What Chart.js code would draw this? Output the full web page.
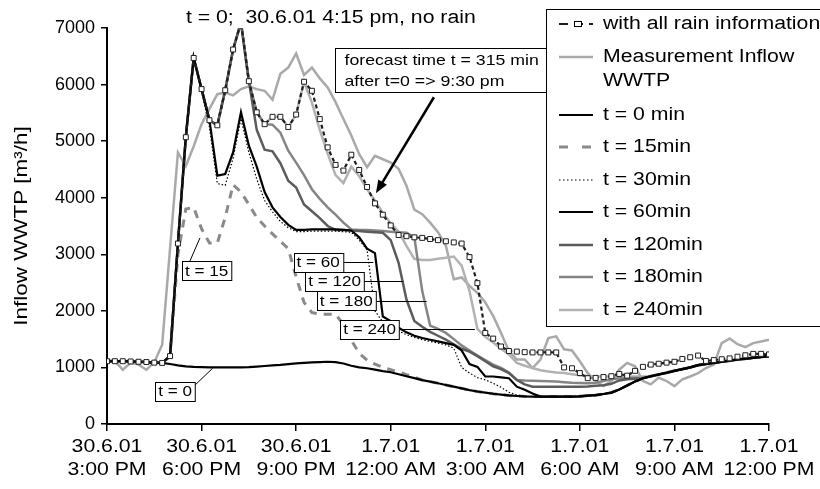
<!DOCTYPE html>
<html>
<head>
<meta charset="utf-8">
<title>Inflow WWTP forecast</title>
<script src="https://cdn.jsdelivr.net/npm/chart.js@4.4.0/dist/chart.umd.min.js"></script>
<style>
  html, body { margin: 0; padding: 0; background: #fff; }
  #wrap { width: 820px; height: 489px; }
  canvas { display: block; }
</style>
</head>
<body>
<div id="wrap"><canvas id="chart" width="820" height="489" style="width:820px;height:489px"></canvas></div>
<script>
// 15 minute values starting 30.6.01 3:00 PM (hours after 3:00 PM)
var stepHours = 0.25;

var tickDates = ['30.6.01', '30.6.01', '30.6.01', '1.7.01', '1.7.01', '1.7.01', '1.7.01', '1.7.01'];
var tickTimes = ['3:00 PM', '6:00 PM', '9:00 PM', '12:00 AM', '3:00 AM', '6:00 AM', '9:00 AM', '12:00 PM'];

var seriesNames = [
  'with all rain information', ['Measurement Inflow', 'WWTP'], 't = 0 min', 't = 15min',
  't = 30min', 't = 60min', 't = 120min', 't = 180min', 't = 240min'
];

var rainAll = [
  1110, 1110, 1110, 1105, 1100, 1095, 1085, 1080, 1200, 3190,
  5070, 6470, 5920, 5370, 5280, 5900, 6620, 7100, 6060, 5510,
  5300, 5430, 5430, 5250, 5470, 6050, 5890, 5390, 4890, 4580,
  4480, 4760, 4490, 4190, 3900, 3700, 3510, 3340, 3320, 3300,
  3290, 3270, 3250, 3230, 3210, 3190, 2950, 2490, 1610, 1510,
  1370, 1290, 1280, 1270, 1265, 1265, 1265, 1265, 1000, 985,
  900, 810, 815, 830, 845, 885, 855, 940, 1010, 1050,
  1065, 1085, 1100, 1150, 1180, 1210, 1115, 1130, 1145, 1160,
  1190, 1215, 1240, 1240, 1230
];

var measured = [
  1130, 1110, 960, 1080, 1050, 960, 1090, 1400, 3100, 4800,
  4560, 4910, 5300, 5570, 5830, 5860, 5810, 5920, 5970, 5920,
  5890, 5730, 6190, 6300, 6550, 6170, 6300, 6110, 5950, 5690,
  5390, 5100, 4770, 4540, 4740, 4680, 4620, 4510, 4210, 3790,
  3710, 3560, 3390, 3150, 2560, 2590, 2440, 2320, 2150, 1910,
  1610, 1290, 1140, 1140, 990, 1140, 1520, 1550, 1320, 1300,
  1110, 900, 760, 670, 760, 960, 1080, 1020, 760, 700,
  820, 760, 670, 790, 840, 900, 990, 1050, 1430, 1510,
  1410, 1360, 1430, 1460, 1490
];

var fc0 = [
  1110, 1110, 1110, 1105, 1100, 1095, 1085, 1080, 1060, 1035,
  1020, 1010, 1005, 1000, 1000, 1000, 1000, 1000, 1005, 1015,
  1025, 1035, 1045, 1060, 1070, 1080, 1090, 1095, 1100, 1095,
  1070, 1030, 1000, 985, 960, 935, 915, 880, 845, 810,
  775, 750, 720, 690, 660, 630, 600, 575, 555, 535,
  520, 505, 495, 488, 485, 485, 485, 485, 485, 485,
  490, 500, 510, 530, 555, 610, 680, 750, 810, 845,
  875, 905, 940, 970, 1000, 1040, 1060, 1080, 1100, 1120,
  1140, 1155, 1170, 1185, 1200
];

var fc15 = [
  1110, 1110, 1110, 1105, 1100, 1095, 1085, 1080, 1200, 3000,
  3800, 3830, 3450, 3200, 3200, 3650, 4230, 4100, 3880, 3650,
  3500, 3360, 3230, 3100, 2600, 2150, 1970, 1940, 1940, 1940,
  1760, 1480, 1250, 1130, 1060, 1000, 960, 920, 870, 830,
  775, 750, 720, 690, 660, 630, 600, 575, 555, 535,
  520, 505, 495, 488, 485, 485, 485, 485, 485, 485,
  490, 500, 510, 530, 555, 610, 680, 750, 810, 845,
  875, 905, 940, 970, 1000, 1040, 1060, 1080, 1100, 1120,
  1140, 1155, 1170, 1185, 1200
];

var fc30 = [
  1110, 1110, 1110, 1105, 1100, 1095, 1085, 1080, 1200, 3190,
  5070, 6470, 5880, 5250, 4250, 4220, 4700, 5400, 4800, 4330,
  3950, 3750, 3580, 3470, 3400, 3400, 3410, 3410, 3410, 3410,
  3400, 3390, 3250, 3080, 2000, 1800, 1720, 1640, 1580, 1530,
  1490, 1460, 1430, 1400, 1340, 1000, 900, 820, 780, 720,
  650, 560, 510, 488, 485, 485, 485, 485, 485, 485,
  490, 500, 510, 530, 555, 610, 680, 750, 810, 845,
  875, 905, 940, 970, 1000, 1040, 1060, 1080, 1100, 1120,
  1140, 1155, 1170, 1185, 1200
];

var fc60 = [
  1110, 1110, 1110, 1105, 1100, 1095, 1085, 1080, 1200, 3190,
  5070, 6470, 5920, 5370, 4390, 4420, 4800, 5510, 4920, 4550,
  4100, 3830, 3660, 3520, 3430, 3430, 3440, 3440, 3440, 3440,
  3430, 3420, 3300, 3100, 3020, 1900, 1820, 1700, 1620, 1560,
  1520, 1490, 1460, 1430, 1400, 1300, 1060, 1010, 840, 840,
  825, 810, 660, 605, 540, 485, 485, 485, 485, 485,
  490, 500, 510, 530, 555, 610, 680, 750, 810, 845,
  875, 905, 940, 970, 1000, 1040, 1060, 1080, 1100, 1120,
  1140, 1155, 1170, 1185, 1200
];

var fc120 = [
  1110, 1110, 1110, 1105, 1100, 1095, 1085, 1080, 1200, 3190,
  5070, 6470, 5920, 5370, 5280, 5900, 6620, 7100, 6060, 5200,
  4850, 4820, 4610, 4300, 4180, 3880, 3760, 3640, 3500, 3430,
  3430, 3420, 3410, 3400, 3390, 3380, 3250, 2850, 2200, 1820,
  1720, 1630, 1560, 1490, 1410, 1330, 1280, 1200, 1110, 1020,
  970, 900, 780, 700, 660, 660, 660, 660, 660, 660,
  660, 665, 675, 685, 710, 770, 790, 800, 810, 845,
  875, 905, 940, 970, 1000, 1040, 1060, 1080, 1100, 1120,
  1140, 1155, 1170, 1185, 1200
];

var fc180 = [
  1110, 1110, 1110, 1105, 1100, 1095, 1085, 1080, 1200, 3190,
  5070, 6470, 5920, 5370, 5280, 5900, 6620, 7100, 6060, 5510,
  5300, 5290, 5150, 4830, 4620, 4400, 4150, 3980, 3830, 3700,
  3560, 3440, 3430, 3430, 3420, 3410, 3400, 3390, 3380, 3300,
  2350, 1740, 1680, 1610, 1500, 1390, 1300, 1210, 1130, 1050,
  990, 910, 780, 770, 765, 760, 755, 750, 740, 730,
  725, 720, 730, 760, 790, 810, 815, 815, 815, 845,
  875, 905, 940, 970, 1000, 1040, 1060, 1080, 1100, 1120,
  1140, 1155, 1170, 1185, 1200
];

var fc240 = [
  1110, 1110, 1110, 1105, 1100, 1095, 1085, 1080, 1200, 3190,
  5070, 6470, 5920, 5370, 5280, 5900, 6620, 7100, 6060, 5510,
  5300, 5430, 5430, 5250, 5470, 6050, 5680, 5200, 4780, 4400,
  4260, 4550, 4380, 4150, 3950, 3730, 3550, 3400, 3150, 2920,
  2900, 2900, 2920, 2940, 2960, 2800, 2350, 1680, 1540, 1440,
  1330, 1230, 1080, 1030, 990, 950, 930, 910, 900, 880,
  860, 850, 840, 840, 840, 840, 840, 840, 840, 845,
  875, 905, 940, 970, 1000, 1040, 1060, 1080, 1100, 1120,
  1140, 1155, 1170, 1185, 1200
];

// annotation positions in data units (hours after 3:00 PM, m3/h)
var lineLabels = [
  { text: 't = 15', x: 3.16, y: 2710, from: [2.63, 2880], to: [2.95, 3290] },
  { text: 't = 0', x: 2.16, y: 580, from: [2.74, 660], to: [3.35, 985] },
  { text: 't = 60', x: 6.70, y: 2855, toX: 8.45 },
  { text: 't = 120', x: 7.22, y: 2519, toX: 9.40 },
  { text: 't = 180', x: 7.59, y: 2183, toX: 10.14 },
  { text: 't = 240', x: 8.33, y: 1676, toX: 11.67 }
];
var forecastNote = { x: 7.23, y: 6645, lines: ['forecast time t = 315 min', 'after t=0 => 9:30 pm'] };
var noteArrow = { from: [10.37, 5776], to: [8.53, 4079] };
var titleText = 't = 0;  30.6.01 4:15 pm, no rain';
var yTitle = 'Inflow WWTP [m³/h]';

var FONT = '"Liberation Sans", Arial, Helvetica, sans-serif';
var SX = 1.18;   // the original text is set wide

function toPoints(values) {
  return values.map(function(v, i) { return { x: i * stepHours, y: v }; });
}

function label(k) {
  var n = seriesNames[k];
  return Array.isArray(n) ? n.join(' ') : n;
}

function wideText(ctx, text, x, y, size, align) {
  ctx.save();
  ctx.font = size + 'px ' + FONT;
  ctx.fillStyle = '#000';
  ctx.textBaseline = 'middle';
  ctx.textAlign = align || 'left';
  ctx.translate(x, y);
  ctx.scale(SX, 1);
  ctx.fillText(text, 0, 0);
  ctx.restore();
}

function wideWidth(ctx, text, size) {
  ctx.save();
  ctx.font = size + 'px ' + FONT;
  var w = ctx.measureText(text).width * SX;
  ctx.restore();
  return w;
}

function line(ctx, x1, y1, x2, y2, width) {
  ctx.save();
  ctx.strokeStyle = '#000';
  ctx.lineWidth = width || 1;
  ctx.beginPath();
  ctx.moveTo(x1, y1);
  ctx.lineTo(x2, y2);
  ctx.stroke();
  ctx.restore();
}

var overlay = {
  id: 'overlay',
  afterDraw: function(chart) {
    var ctx = chart.ctx;
    var xs = chart.scales.x, ys = chart.scales.y;
    var area = chart.chartArea;
    var px = function(v) { return xs.getPixelForValue(v); };
    var py = function(v) { return ys.getPixelForValue(v); };

    // x tick labels, two lines
    xs.ticks.forEach(function(t) {
      var k = Math.round(t.value / 3);
      var x = px(t.value);
      wideText(ctx, tickDates[k], x, area.bottom + 23, 18, 'center');
      wideText(ctx, tickTimes[k], x, area.bottom + 46, 18, 'center');
    });

    // y axis title
    ctx.save();
    ctx.translate(22, (area.top + area.bottom) / 2);
    ctx.rotate(-Math.PI / 2);
    wideText(ctx, yTitle, 0, 0, 19, 'center');
    ctx.restore();

    // title
    wideText(ctx, titleText, px(7.1), area.top - 10, 18, 'center');

    // line labels with leader lines
    lineLabels.forEach(function(l) {
      var cx = px(l.x), cy = py(l.y);
      var w = wideWidth(ctx, l.text, 14.5) + 6, h = 19;
      var left = Math.round(cx - w / 2) + 0.5, top = Math.round(cy - h / 2) + 0.5;
      if (l.from) {
        line(ctx, px(l.from[0]), py(l.from[1]), px(l.to[0]), py(l.to[1]), 1);
      } else {
        line(ctx, left + w, Math.round(cy) + 0.5, px(l.toX), Math.round(cy) + 0.5, 1);
      }
      ctx.save();
      ctx.fillStyle = '#fff';
      ctx.strokeStyle = '#000';
      ctx.lineWidth = 1;
      ctx.fillRect(left, top, w, h);
      ctx.strokeRect(left, top, w, h);
      ctx.restore();
      wideText(ctx, l.text, cx, cy + 1, 14.5, 'center');
    });

    // forecast note with arrow
    var nx = Math.round(px(forecastNote.x)) + 0.5, ny = Math.round(py(forecastNote.y)) + 0.5;
    var nw = 0;
    forecastNote.lines.forEach(function(s) { nw = Math.max(nw, wideWidth(ctx, s, 15)); });
    nw = Math.round(nw + 19);
    ctx.save();
    ctx.fillStyle = '#fff';
    ctx.strokeStyle = '#000';
    ctx.lineWidth = 1;
    ctx.fillRect(nx, ny, nw, 44);
    ctx.strokeRect(nx, ny, nw, 44);
    ctx.restore();
    forecastNote.lines.forEach(function(s, i) {
      wideText(ctx, s, nx + 9, ny + 12 + i * 21, 15, 'left');
    });

    var ax1 = px(noteArrow.from[0]), ay1 = py(noteArrow.from[1]);
    var ax2 = px(noteArrow.to[0]), ay2 = py(noteArrow.to[1]);
    var ang = Math.atan2(ay2 - ay1, ax2 - ax1);
    line(ctx, ax1, ay1, ax2 - 8 * Math.cos(ang), ay2 - 8 * Math.sin(ang), 2.5);
    ctx.save();
    ctx.fillStyle = '#000';
    ctx.beginPath();
    ctx.moveTo(ax2, ay2);
    ctx.lineTo(ax2 - 13 * Math.cos(ang) + 5 * Math.sin(ang), ay2 - 13 * Math.sin(ang) - 5 * Math.cos(ang));
    ctx.lineTo(ax2 - 13 * Math.cos(ang) - 5 * Math.sin(ang), ay2 - 13 * Math.sin(ang) + 5 * Math.cos(ang));
    ctx.closePath();
    ctx.fill();
    ctx.restore();

    drawLegend(chart);
  }
};

var legendRowY = [24, 57, 115, 147, 180, 212, 245, 277, 310];

function drawLegend(chart) {
  var ctx = chart.ctx;
  ctx.save();
  ctx.fillStyle = '#fff';
  ctx.fillRect(546, 9, 280, 318);
  ctx.strokeStyle = '#000';
  ctx.lineWidth = 1;
  ctx.strokeRect(546.5, 9.5, 300, 317);
  ctx.restore();

  chart.data.datasets.forEach(function(ds, k) {
    var y = legendRowY[k];
    ctx.save();
    ctx.strokeStyle = ds.borderColor;
    ctx.lineWidth = ds.borderWidth;
    if (k === 0) ctx.setLineDash([9, 6]);
    else if (k === 3) ctx.setLineDash([9, 14]);
    else if (k === 4) ctx.setLineDash([1.5, 2.5]);
    ctx.beginPath();
    ctx.moveTo(559, y);
    ctx.lineTo(593, y);
    ctx.stroke();
    if (ds.pointRadius > 0) {
      ctx.setLineDash([]);
      ctx.fillStyle = '#fff';
      ctx.strokeStyle = '#000';
      ctx.lineWidth = 1;
      ctx.fillRect(574.5, y - 2.5, 7, 5);
      ctx.strokeRect(574.5, y - 2.5, 7, 5);
    }
    ctx.restore();
    var name = seriesNames[k];
    if (Array.isArray(name)) {
      name.forEach(function(s, i) { wideText(ctx, s, 603, y + i * 24, 18, 'left'); });
    } else {
      wideText(ctx, name, 603, y, 18, 'left');
    }
  });
}

function series(k, values, color, width, dash, order) {
  return {
    label: label(k),
    data: toPoints(values),
    borderColor: color,
    backgroundColor: color,
    borderWidth: width,
    borderDash: dash,
    pointRadius: 0,
    tension: 0,
    fill: false,
    order: order
  };
}

var rainSet = series(0, rainAll, '#1e1e1e', 2.2, [4, 3], 0);
rainSet.pointStyle = 'rect';
rainSet.pointRadius = 3.5;
rainSet.pointBackgroundColor = '#fff';
rainSet.pointBorderColor = '#1e1e1e';
rainSet.pointBorderWidth = 1;

var datasets = [
  rainSet,
  series(1, measured, '#a9a9a9', 2.5, [], 8),
  series(2, fc0, '#000000', 2.2, [], 2),
  series(3, fc15, '#8a8a8a', 3, [8, 7], 4),
  series(4, fc30, '#000000', 1.2, [1.5, 2], 3),
  series(5, fc60, '#000000', 2.2, [], 1),
  series(6, fc120, '#5c5c5c', 2.5, [], 5),
  series(7, fc180, '#858585', 2.5, [], 6),
  series(8, fc240, '#b2b2b2', 2.5, [], 7)
];

new Chart(document.getElementById('chart'), {
  type: 'line',
  data: { datasets: datasets },
  options: {
    responsive: false,
    animation: false,
    devicePixelRatio: 1,
    layout: { padding: { top: 28, right: 51, bottom: 0, left: 0 } },
    plugins: { legend: { display: false }, tooltip: { enabled: false } },
    scales: {
      x: {
        type: 'linear',
        min: 0,
        max: 21,
        ticks: { stepSize: 3, display: false },
        grid: { drawOnChartArea: false, drawTicks: true, tickLength: 7, color: '#000', lineWidth: 1.5 },
        border: { color: '#000', width: 2 },
        afterFit: function(s) { s.height = 65; }
      },
      y: {
        min: 0,
        max: 7000,
        ticks: {
          stepSize: 1000, color: '#000', padding: 6, font: { size: 18, family: FONT },
          callback: function(v) { return String(v); }
        },
        grid: { drawOnChartArea: false, drawTicks: true, tickLength: 6, color: '#000', lineWidth: 1.5 },
        border: { color: '#000', width: 2 },
        afterFit: function(s) { s.width = 107; }
      }
    }
  },
  plugins: [overlay]
});
</script>
</body>
</html>
